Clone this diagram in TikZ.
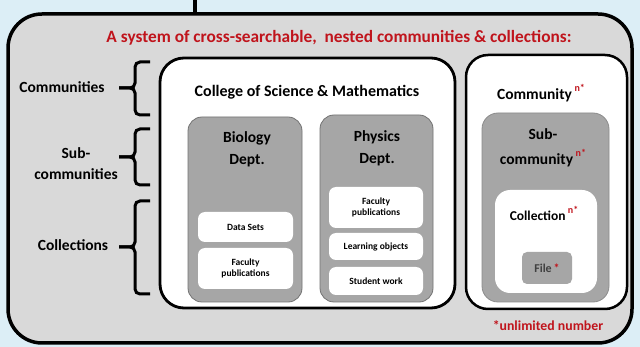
\documentclass[tikz,border=0pt]{standalone}
\usepackage{fontspec}
\setmainfont{Carlito}
\definecolor{bgblue}{HTML}{DCEEF6}
\definecolor{panelgray}{HTML}{D9D9D9}
\definecolor{deptgray}{HTML}{A6A6A6}
\definecolor{redtext}{HTML}{C0141C}
\newcommand{\nstar}[1]{\,\raisebox{#1}{\fontsize{10}{10}\selectfont\color{redtext}n*}}
\tikzset{x=1pt, y=-1pt,
outer box/.style={ % The whole system
draw, line width=3.5pt, fill=panelgray, rounded corners=34pt},
community box/.style={ % Top level communities
draw, line width=2.8pt, fill=white, rounded corners=24pt},
dept box/.style={ % Sub-communities
draw=black!55, line width=0.8pt, fill=deptgray, rounded corners=14pt},
item box/.style={ % Collections
fill=white, rounded corners=7pt},
small text/.style={font=\bfseries\fontsize{9.5}{11}\selectfont, align=center},
level text/.style={font=\bfseries\fontsize{15.5}{21}\selectfont, align=center},
level brace/.style={line width=3pt, rounded corners=5pt}}

\begin{document}
\begin{tikzpicture}
\useasboundingbox[fill=bgblue] (0,0) rectangle (640,347);
% outer frame
\node[outer box, minimum width=624pt, minimum height=329pt] (system) at (320,178.5) {};
\coordinate (top) at (195,0);
\draw[line width=3.5pt] (top) -- (system.north -| top);
\node[font=\bfseries\fontsize{17.3}{19}\selectfont, text=redtext] (title) at (339,38)
  {A system of cross-searchable,~~nested communities \& collections:};
% levels on the left
\node[level text] (lcomm) at (62,87) {Communities};
\node[level text] (lsub) at (76,164) {Sub-\\communities};
\node[level text] (lcoll) at (73,245) {Collections};
\draw[level brace] (150,62) -| (135,88) -- (119,88);
\draw[level brace] (150,115) -| (135,88) -- (119,88);
\draw[level brace] (150,129) -| (135,157) -- (119,157);
\draw[level brace] (150,185) -| (135,157) -- (119,157);
\draw[level brace] (150,201) -| (135,247) -- (119,247);
\draw[level brace] (150,294) -| (135,247) -- (119,247);
% college
\node[community box, minimum width=295pt, minimum height=250pt] (college) at (307.5,183) {};
\node[level text, font=\bfseries\fontsize{16}{18}\selectfont] (tcollege) at (307,92) {College of Science \& Mathematics};
\node[dept box, minimum width=114pt, minimum height=185pt] (bio) at (245,209.5) {};
\node[level text, font=\bfseries\fontsize{15.5}{22}\selectfont] (tbio) at (247,149) {Biology\\Dept.};
\node[item box, minimum width=95pt, minimum height=30pt, small text] (biodata) at (245.5,227) {Data Sets};
\node[item box, minimum width=95pt, minimum height=41pt, small text] (biofac) at (245.5,268.5) {Faculty\\publications};
\node[dept box, minimum width=113pt, minimum height=187pt] (phys) at (376.5,208.5) {};
\node[level text, font=\bfseries\fontsize{15.5}{22}\selectfont] (tphys) at (377,148) {Physics\\Dept.};
\node[item box, minimum width=94pt, minimum height=41pt, small text] (physfac) at (376,207.5) {Faculty\\publications};
\node[item box, minimum width=94pt, minimum height=27pt, small text] (physlearn) at (376,246.5) {Learning objects};
\node[item box, minimum width=94pt, minimum height=28pt, small text] (physstud) at (376,281) {Student work};
% generic community
\node[community box, line width=2.5pt, rounded corners=22pt, minimum width=161pt, minimum height=254pt] (comm) at (546.5,182) {};
\node[level text] (tcomm) at (541,93) {Community\nstar{8pt}};
\node[dept box, draw=black!45, rounded corners=16pt, minimum width=127pt, minimum height=189pt] (subcomm) at (545.5,207.5) {};
\node[level text, font=\bfseries\fontsize{15.5}{25}\selectfont] (tsub) at (543,148) {Sub-\\community\nstar{8pt}};
\node[item box, rounded corners=15pt, minimum width=102pt, minimum height=103pt] (coll) at (546,241.5) {};
\node[level text, font=\bfseries\fontsize{13.5}{15}\selectfont] (tcoll) at (544,213) {Collection\nstar{7pt}};
\node[fill=deptgray, rounded corners=5pt, minimum width=50pt, minimum height=32pt,
  font=\bfseries\fontsize{12}{13}\selectfont, text=black!75] (file) at (547,268) {File\,{\color{redtext}*}};
\node[font=\bfseries\fontsize{13.8}{15}\selectfont, text=redtext] (note) at (548,326) {*unlimited number};
\end{tikzpicture}
\end{document}
